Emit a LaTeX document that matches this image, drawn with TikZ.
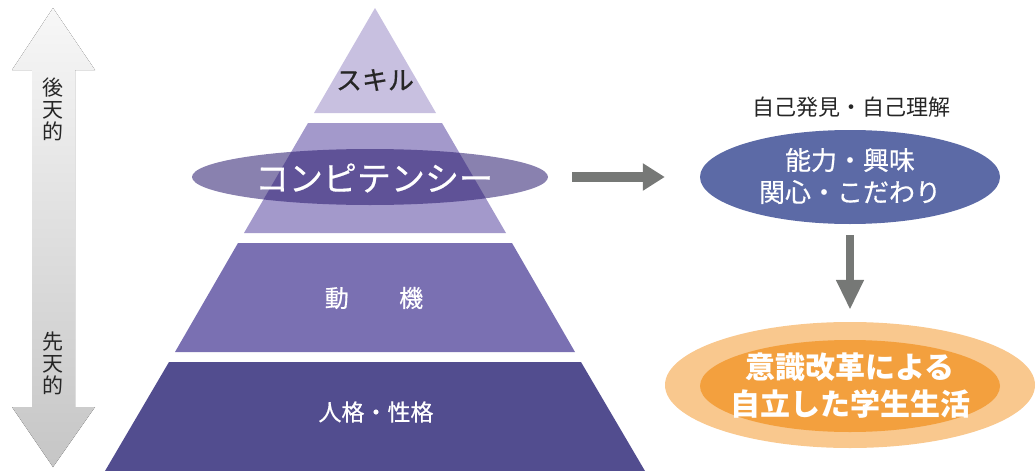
\documentclass[tikz,border=0pt]{standalone}
\usepackage{fontspec}
\newfontfamily\cjk{Noto Sans CJK JP}
\newfontfamily\cjkm[FakeBold=0.5]{Noto Sans CJK JP}
\usetikzlibrary{arrows.meta,shapes.geometric}
\definecolor{lay1}{RGB}{200,192,224}
\definecolor{lay2}{RGB}{163,153,203}
\definecolor{lay3}{RGB}{122,112,178}
\definecolor{lay4}{RGB}{82,77,143}
\definecolor{compfill}{RGB}{40,25,110}
\definecolor{bluefill}{RGB}{92,106,166}
\definecolor{orangeout}{RGB}{249,200,142}
\definecolor{orangein}{RGB}{243,160,62}
\definecolor{arrowgray}{RGB}{118,120,118}
\tikzset{
  lbl/.style={font=\cjk, inner sep=0pt},
  whitelbl/.style={lbl, text=white},
  bigarrow/.style={draw=arrowgray, line width=10pt, -{Triangle[width=26pt,length=22pt]}},
}
\begin{document}
\begin{tikzpicture}[x=1pt,y=-1pt]
\useasboundingbox (0,0) rectangle (1036,471);
% left double arrow
\fill[top color=white!94!gray, bottom color=gray!45] (53,8) -- (95,70) -- (75,70) -- (75,407) -- (95,407) -- (53,467) -- (12,407) -- (32,407) -- (32,70) -- (12,70) -- cycle;
\node[lbl, font=\cjk\fontsize{21}{22}\selectfont, align=center, text=black!85] (acq) at (53,109) {後\\天\\的};
\node[lbl, font=\cjk\fontsize{21}{22}\selectfont, align=center, text=black!85] (inn) at (53,363) {先\\天\\的};
% pyramid
\fill[lay1] (375,8) -- (436,113) -- (314,113) -- cycle;
\fill[lay2] (308,123) -- (442,123) -- (506,233) -- (244,233) -- cycle;
\fill[lay3] (238,243) -- (512,243) -- (575,352) -- (175,352) -- cycle;
\fill[lay4] (169,362) -- (581,362) -- (645,471) -- (105,471) -- cycle;
\node[lbl, font=\cjkm\fontsize{26}{28}\selectfont, text=black!85] (skill) at (375,80) {スキル};
\node[whitelbl, font=\cjkm\fontsize{24}{26}\selectfont] (motive) at (374,298) {動\hspace{2.1em}機};
\node[whitelbl, font=\cjkm\fontsize{23}{26}\selectfont] (person) at (376,412) {人格・性格};
% competency ellipse
\node[ellipse, fill=compfill, fill opacity=0.55, minimum width=356pt, minimum height=56pt, inner sep=0pt] (comp) at (370,177) {};
\node[whitelbl, font=\cjkm\fontsize{34}{36}\selectfont] (comptxt) at (374,178) {コンピテンシー};
% right side
\node[lbl, font=\cjk\fontsize{22}{24}\selectfont, text=black!85] (discover) at (851,107) {自己発見・自己理解};
\node[ellipse, fill=bluefill, minimum width=300pt, minimum height=94pt, inner sep=0pt] (blue) at (850,177) {};
\node[whitelbl, font=\cjkm\fontsize{26}{32}\selectfont, align=center] (bluetxt) at (850,176) {能力・興味\\関心・こだわり};
\node[ellipse, fill=orangeout, minimum width=370pt, minimum height=126pt, inner sep=0pt] (orange) at (850,385) {};
\node[ellipse, fill=orangein, minimum width=300pt, minimum height=92pt, inner sep=0pt] (orangein) at (850,386) {};
\node[whitelbl, font=\cjk\bfseries\fontsize{30}{37}\selectfont, align=center] (orangetxt) at (850,386) {意識改革による\\自立した学生生活};
% connectors
\draw[bigarrow, shorten <=24pt, shorten >=35pt] (comp.east) -- (blue.west);
\draw[bigarrow, line width=8pt, -{Triangle[width=26pt,length=30pt]}, shorten <=11pt, shorten >=12pt] (blue.south) -- (orange.north);
\end{tikzpicture}
\end{document}
